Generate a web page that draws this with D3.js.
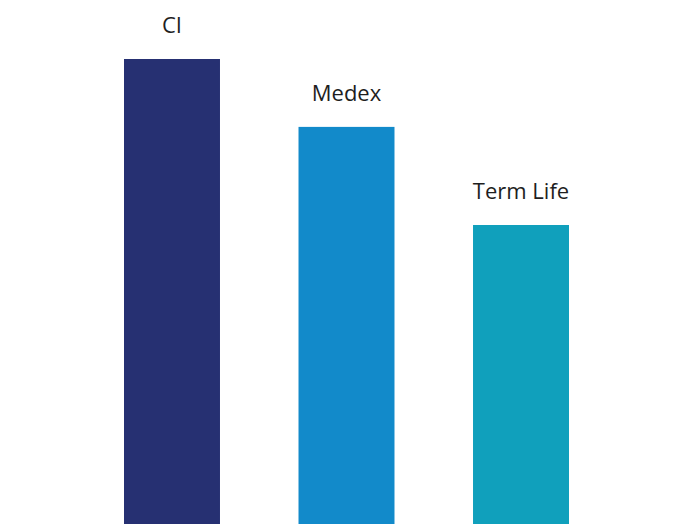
<!DOCTYPE html>
<html>
<head>
<meta charset="utf-8">
<script src="https://cdn.jsdelivr.net/npm/d3@7"></script>
<style>
  html, body { margin: 0; padding: 0; background: #fff; }
  svg { display: block; }
</style>
</head>
<body>
<svg id="chart" width="678" height="524"></svg>
<script>
const categories = ["CI", "Medex", "Term Life"];
const values = [100, 85.4, 64.3];
const colors = ["#263072", "#128aca", "#10a0bc"];

const svg = d3.select("#chart");
const width = 678, height = 524;

const x = d3.scaleBand()
  .domain(categories)
  .range([124, 569])
  .paddingInner(0.45)
  .paddingOuter(0);

const y = d3.scaleLinear()
  .domain([0, 100])
  .range([height, 59]);

const g = svg.append("g");

g.selectAll("rect.bar")
  .data(categories)
  .join("rect")
  .attr("class", "bar")
  .attr("x", d => x(d))
  .attr("width", x.bandwidth())
  .attr("y", (d, i) => y(values[i]))
  .attr("height", (d, i) => height - y(values[i]))
  .attr("fill", (d, i) => colors[i]);

g.selectAll("text.label")
  .data(categories)
  .join("text")
  .attr("class", "label")
  .attr("x", d => x(d) + x.bandwidth() / 2)
  .attr("y", (d, i) => y(values[i]) - 26)
  .attr("text-anchor", "middle")
  .attr("font-family", "'Open Sans', Lato, sans-serif")
  .attr("font-size", 22)
  .attr("font-weight", 400)
  .attr("fill", "#1e1e1e")
  .text(d => d);
</script>
</body>
</html>
